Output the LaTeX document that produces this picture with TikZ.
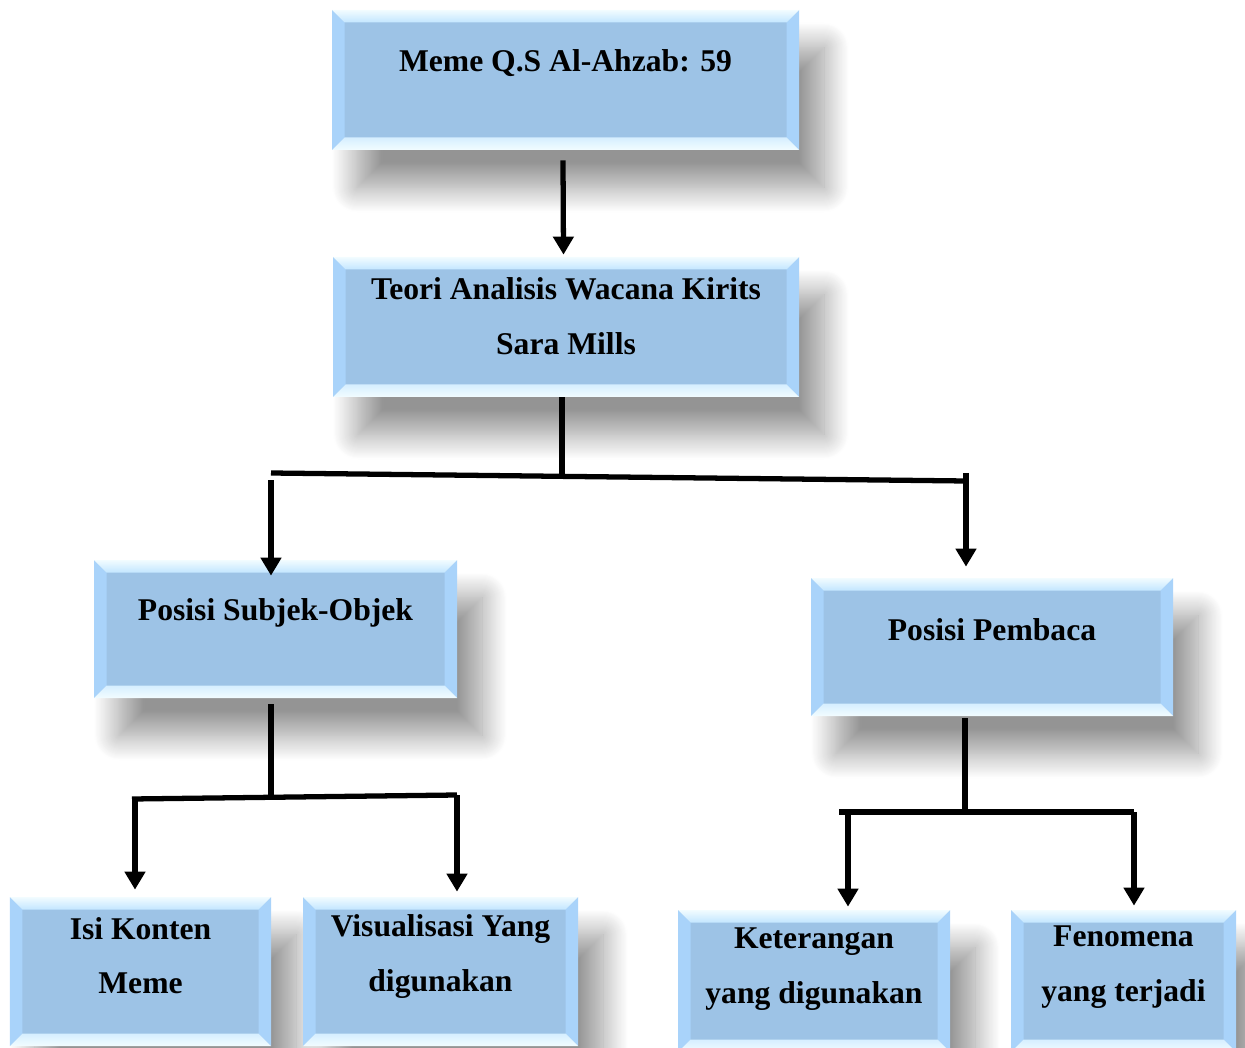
\documentclass[tikz,border=0pt]{standalone}
\usepackage{fontspec}
\setmainfont{Liberation Serif}
\usetikzlibrary{arrows.meta,shadows.blur}

\definecolor{boxface}{HTML}{9DC3E6}
\definecolor{bevside}{HTML}{A9D3FA}
\definecolor{bevlight}{HTML}{F2FCFF}
\definecolor{bevmid}{HTML}{C3E6FF}

\tikzset{
  bevelbox/.style={fill=boxface, draw=none, inner sep=0pt,
    blur shadow={shadow xshift=0.5cm, shadow yshift=-0.75cm,
      shadow blur radius=0.5cm, shadow blur steps=24, shadow opacity=42},
    path picture={
      \coordinate (nw) at (path picture bounding box.north west);
      \coordinate (ne) at (path picture bounding box.north east);
      \coordinate (sw) at (path picture bounding box.south west);
      \coordinate (se) at (path picture bounding box.south east);
      \fill[bevside] (nw) -- ([xshift=0.25cm,yshift=-0.25cm]nw) -- ([xshift=0.25cm,yshift=0.25cm]sw) -- (sw) -- cycle;
      \fill[bevside] (ne) -- ([xshift=-0.25cm,yshift=-0.25cm]ne) -- ([xshift=-0.25cm,yshift=0.25cm]se) -- (se) -- cycle;
      \shade[top color=bevlight, bottom color=bevmid] (nw) -- (ne) -- ([xshift=-0.25cm,yshift=-0.25cm]ne) -- ([xshift=0.25cm,yshift=-0.25cm]nw) -- cycle;
      \shade[top color=bevmid!60!bevlight, bottom color=bevlight] (sw) -- (se) -- ([xshift=-0.25cm,yshift=0.25cm]se) -- ([xshift=0.25cm,yshift=0.25cm]sw) -- cycle;
    }},
  boxtext/.style={font=\bfseries\fontsize{18}{31}\selectfont, align=center},
  line/.style={line width=3pt},
  arr/.style={line width=3pt, -{Triangle[length=0.36cm,width=0.4cm]}},
}

\begin{document}
\begin{tikzpicture}
  \useasboundingbox (0,0) rectangle (24.9,-20.96);

  % boxes
  \node[bevelbox, minimum width=9.34cm, minimum height=2.8cm]  (meme)    at (11.31,-1.6)   {};
  \node[bevelbox, minimum width=9.32cm, minimum height=2.8cm]  (teori)   at (11.32,-6.54)  {};
  \node[bevelbox, minimum width=7.26cm, minimum height=2.76cm] (subjek)  at (5.51,-12.58)  {};
  \node[bevelbox, minimum width=7.24cm, minimum height=2.76cm] (pembaca) at (19.84,-12.94) {};
  \node[bevelbox, minimum width=5.22cm, minimum height=2.98cm] (isi)     at (2.81,-19.43)  {};
  \node[bevelbox, minimum width=5.5cm,  minimum height=2.98cm] (visual)  at (8.81,-19.43)  {};
  \node[bevelbox, minimum width=5.44cm, minimum height=2.84cm] (ket)     at (16.28,-19.62) {};
  \node[bevelbox, minimum width=4.5cm,  minimum height=2.84cm] (fen)     at (22.47,-19.62) {};

  % texts
  \node[boxtext] (meme-t)    at ([yshift=0.34cm]meme.center)    {Meme Q.S Al-Ahzab: 59};
  \node[boxtext] (teori-t)   at ([yshift=0.22cm]teori.center)  {Teori Analisis Wacana Kirits\\Sara Mills};
  \node[boxtext] (subjek-t)  at ([yshift=0.32cm]subjek.center) {Posisi Subjek-Objek};
  \node[boxtext] (pembaca-t) at ([yshift=0.35cm]pembaca.center) {Posisi Pembaca};
  \node[boxtext] (isi-t)     at ([yshift=0.32cm]isi.center)    {Isi Konten\\Meme};
  \node[boxtext] (visual-t)  at ([yshift=0.3cm]visual.center) {Visualisasi Yang\\digunakan};
  \node[boxtext] (ket-t)     at ([yshift=0.24cm]ket.center)    {Keterangan\\yang digunakan};
  \node[boxtext] (fen-t)     at ([yshift=0.28cm]fen.center)    {Fenomena\\yang terjadi};

  % junctions
  \coordinate (tm) at (11.24,-9.54);
  \coordinate (t1) at (5.42,-9.46);
  \coordinate (t2) at (19.32,-9.62);
  \coordinate (sm) at (5.42,-15.94);
  \coordinate (s1) at (2.70,-15.98);
  \coordinate (s2) at (9.14,-15.90);
  \coordinate (pm) at (19.30,-16.24);
  \coordinate (p1) at (16.96,-16.24);
  \coordinate (p2) at (22.68,-16.24);

  % connectors
  \draw[arr] ([xshift=-0.05cm,yshift=-0.2cm]meme.south) -- ([xshift=-0.05cm,yshift=0.04cm]teori.north);
  \draw[line] (teori.south -| tm) -- (tm);
  \draw[line] (t1) -- (t2);
  \draw[arr] ([yshift=-0.14cm]t1) -- ([yshift=-0.32cm]subjek.north -| t1);
  \draw[arr] ([yshift=0.16cm]t2) -- ([yshift=0.22cm]pembaca.north -| t2);

  \draw[line] ([yshift=-0.12cm]subjek.south -| sm) -- (sm);
  \draw[line] ([xshift=-0.06cm]s1) -- (s2);
  \draw[arr] (s1) -- ([yshift=0.14cm]isi.north -| s1);
  \draw[arr] (s2) -- ([yshift=0.10cm]visual.north -| s2);

  \draw[line] ([yshift=-0.04cm]pembaca.south -| pm) -- (pm);
  \draw[line] ([xshift=-0.18cm]p1) -- (p2);
  \draw[arr] (p1) -- ([yshift=0.06cm]ket.north -| p1);
  \draw[arr] (p2) -- ([yshift=0.08cm]fen.north -| p2);
\end{tikzpicture}
\end{document}
